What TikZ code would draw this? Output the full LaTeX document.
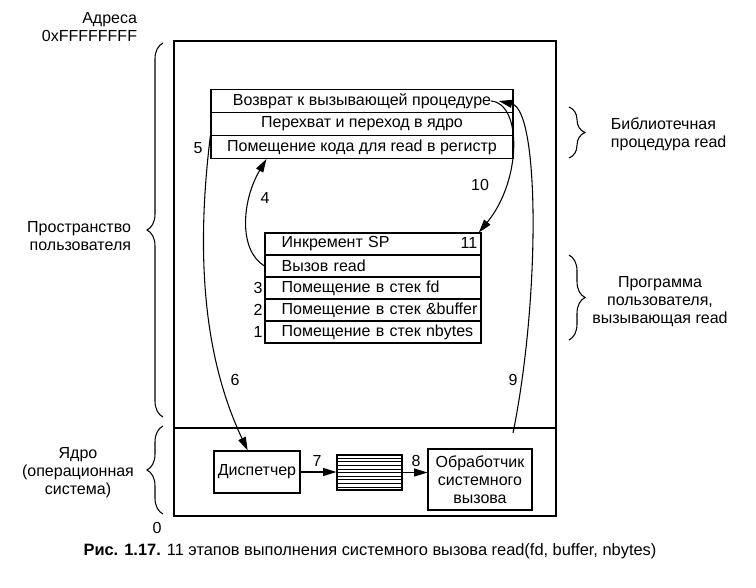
\documentclass[tikz,border=0pt]{standalone}
\usepackage{fontspec}
\setmainfont{Liberation Sans}
\usetikzlibrary{arrows.meta}
\usetikzlibrary{calc}
\usetikzlibrary{decorations.pathreplacing}

\begin{document}
\begin{tikzpicture}[x=0.75pt, y=-0.75pt, line width=0.8pt, font=\fontsize{12}{13.5}\selectfont,
  libcell/.style={draw, minimum width=226.5pt, minimum height=17.25pt, inner sep=0pt},
  progcell/.style={draw, minimum height=16.5pt, text width=150pt, inner xsep=6pt, inner ysep=0pt, align=left,
    execute at begin node={\hspace*{6.5pt}\hbox\bgroup}, execute at end node={\egroup}},
  kbox/.style={draw, inner sep=0pt, align=center},
  arr/.style={-{Triangle[length=10pt,width=6pt]}},
  curly/.style={decorate, decoration={brace, amplitude=12pt}},
  num/.style={inner sep=1pt}]
\useasboundingbox (0,0) rectangle (756,587);

\draw (174,41) rectangle (556,516);
\draw (174,428) -- (556,428);

\node[libcell] (ret)  at (362,101) {Возврат к вызывающей процедуре};
\node[libcell] (trap) at (362,124) {Перехват и переход в ядро};
\node[libcell] (put)  at (362,147) {Помещение кода для read в регистр};

\node[progcell] (incsp)    at (373,244) {Инкремент SP};
\node[progcell] (callread) at (373,266) {Вызов read};
\node[progcell] (pushfd)   at (373,288) {Помещение в стек fd};
\node[progcell] (pushbuf)  at (373,310) {Помещение в стек \&buffer};
\node[progcell] (pushnb)   at (373,332) {Помещение в стек nbytes};

\node[num, anchor=east] (n3) at (pushfd.west) {3};
\node[num, anchor=east] (n2) at (pushbuf.west) {2};
\node[num, anchor=east] (n1) at (pushnb.west) {1};
\node[num] (n11) at (469,243) {11};

\node[kbox, minimum width=64.5pt, minimum height=31.5pt] (disp) at (257,472) {Диспетчер};
\node[kbox, minimum width=48.75pt, minimum height=26.25pt] (tbl) at (369.5,472.5) {};
\node[kbox, minimum width=78pt, minimum height=45.75pt] (handler) at (480,479.5) {Обработчик\\системного\\вызова};
\foreach \i in {1,...,9}
  \draw[line width=0.5pt] ($(tbl.north west)!\i/10!(tbl.south west)$) -- ($(tbl.north east)!\i/10!(tbl.south east)$);

\coordinate (retend) at ([xshift=-17pt]ret.east);
\coordinate (kout) at (513,433);

\draw[arr] (callread.west) .. controls (238,250) and (242,200) .. ([xshift=42pt]put.south west);
\draw[arr] (put.north west) .. controls (195,260) and (205,360) .. ([xshift=-7pt]disp.north);
\draw[arr] (disp.east) -- (disp.east -| tbl.west);
\draw[arr] (tbl.east) -- (tbl.east -| handler.west);
\draw[arr] (kout) .. controls (540,300) and (540,110) .. ([xshift=-11pt]ret.east);
\draw[arr] (retend) .. controls (522,103) and (522,180) .. ([xshift=-2pt]incsp.north east);

\node[num] (n4)  at (265,198) {4};
\node[num] (n5)  at (198,148) {5};
\node[num] (n6)  at (235,380) {6};
\node[num] (n7)  at (317,461) {7};
\node[num] (n8)  at (416,461) {8};
\node[num] (n9)  at (513,380) {9};
\node[num] (n10) at (480,185) {10};

\draw[curly] (163,417) -- (163,43);
\draw[curly] (163,514) -- (163,426);
\draw[curly] (569,107) -- (569,158);
\draw[curly] (569,255) -- (569,340);

\node[align=right, anchor=east] (addr) at (142,27) {Адреса\\0xFFFFFFFF};
\node (zero) at (157,528) {0};
\node[align=right, anchor=east] (user) at (136,236) {Пространство\\пользователя};
\node[align=center] (kernel) at (78,473) {Ядро\\(операционная\\система)};
\node[align=left, anchor=west] (libproc) at (606,134) {Библиотечная\\процедура read};
\node[align=center] (userprog) at (660,302) {Программа\\пользователя,\\вызывающая read};

\node[font=\fontsize{12.3}{14}\selectfont] (caption) at (370,551) {\textbf{Рис. 1.17.} 11 этапов выполнения системного вызова read(fd, buffer, nbytes)};
\end{tikzpicture}
\end{document}
